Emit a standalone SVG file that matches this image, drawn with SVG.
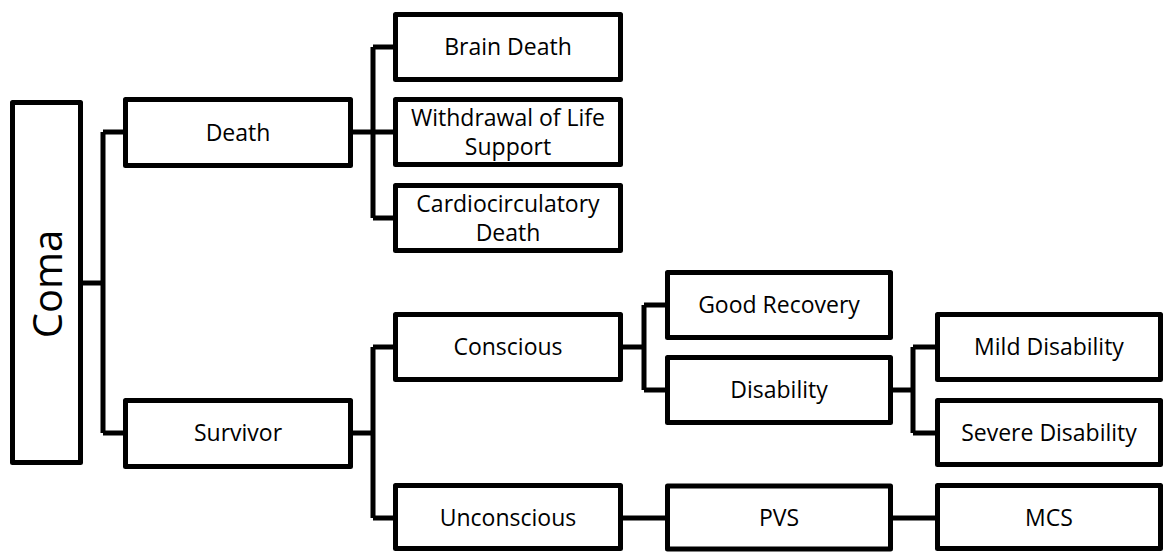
<svg xmlns="http://www.w3.org/2000/svg" width="1165" height="553" viewBox="0 0 1165 553">
<style>
.box{fill:#fff;stroke:#000;stroke-width:5;stroke-linejoin:round}
.lbl{font-family:"Open Sans","Liberation Sans",sans-serif;font-size:23px;fill:#000;text-anchor:middle}
.big{font-family:"Open Sans","Liberation Sans",sans-serif;font-size:40px;fill:#000;text-anchor:middle}
.con{fill:none;stroke:#000;stroke-width:5;stroke-linejoin:miter}
</style>
<rect width="1165" height="553" fill="#fff"/>
<g id="connectors">
<path class="con" d="M83 283H103M103 132V433M103 132H123M103 433H123"/>
<path class="con" d="M353 132H373M373 47V218M373 47H393M373 132H393M373 218H393"/>
<path class="con" d="M353 433H373M373 347V518M373 347H393M373 518H393"/>
<path class="con" d="M623 347H644M644 305V390M644 305H665M644 390H665"/>
<path class="con" d="M893 390H913M913 347V433M913 347H935M913 433H935"/>
<path class="con" d="M623 518H665M893 518H935"/>
</g>
<g id="coma"><rect class="box" x="12.5" y="102.5" width="68" height="360"/><text class="big" transform="translate(46,284) rotate(-90)" dominant-baseline="central">Coma</text></g>
<g id="death"><rect class="box" x="125.5" y="99.5" width="225" height="66"/><text class="lbl" x="238" y="140.5">Death</text></g>
<g id="survivor"><rect class="box" x="125.5" y="400.5" width="225" height="66"/><text class="lbl" x="238" y="441">Survivor</text></g>
<g id="brain-death"><rect class="box" x="395.5" y="14.5" width="225" height="65"/><text class="lbl" x="508" y="55">Brain Death</text></g>
<g id="withdrawal"><rect class="box" x="395.5" y="99.5" width="225" height="65"/><text class="lbl" x="508" y="126">Withdrawal of Life</text><text class="lbl" x="508" y="155">Support</text></g>
<g id="cardio"><rect class="box" x="395.5" y="185.5" width="225" height="65"/><text class="lbl" x="508" y="212">Cardiocirculatory</text><text class="lbl" x="508" y="241">Death</text></g>
<g id="conscious"><rect class="box" x="395.5" y="314.5" width="225" height="65"/><text class="lbl" x="508" y="355">Conscious</text></g>
<g id="unconscious"><rect class="box" x="395.5" y="485.5" width="225" height="63"/><text class="lbl" x="508" y="526">Unconscious</text></g>
<g id="good-recovery"><rect class="box" x="667.5" y="272.5" width="223" height="65"/><text class="lbl" x="779" y="313">Good Recovery</text></g>
<g id="disability"><rect class="box" x="667.5" y="357.5" width="223" height="65"/><text class="lbl" x="779" y="398">Disability</text></g>
<g id="pvs"><rect class="box" x="667.5" y="486" width="223" height="63"/><text class="lbl" x="779" y="526">PVS</text></g>
<g id="mild"><rect class="box" x="937.5" y="314.5" width="223" height="65"/><text class="lbl" x="1049" y="355">Mild Disability</text></g>
<g id="severe"><rect class="box" x="937.5" y="400.5" width="223" height="64"/><text class="lbl" x="1049" y="441">Severe Disability</text></g>
<g id="mcs"><rect class="box" x="937.5" y="485.5" width="223" height="63"/><text class="lbl" x="1049" y="526">MCS</text></g>
</svg>
